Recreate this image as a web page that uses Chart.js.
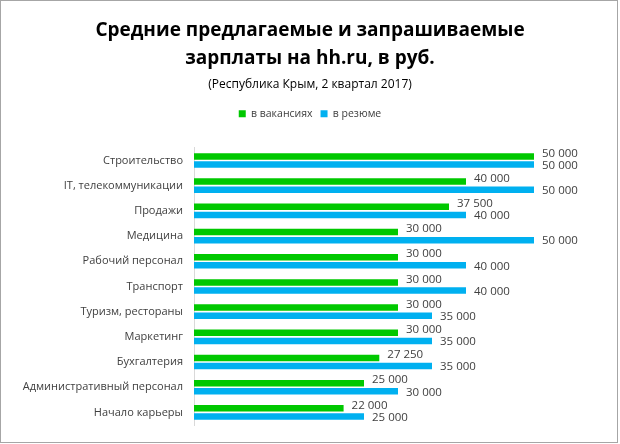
<!DOCTYPE html>
<html>
<head>
<meta charset="utf-8">
<script src="https://cdn.jsdelivr.net/npm/chart.js@4"></script>
<style>
  html, body { margin: 0; padding: 0; background: #fff; }
  #wrap { width: 620px; height: 444px; }
</style>
</head>
<body>
<div id="wrap"><canvas id="salaryChart" width="620" height="444"></canvas></div>
<script>
// -------------------------
// Data
// -------------------------
const categories = [
    'Строительство',
    'IT, телекоммуникации',
    'Продажи',
    'Медицина',
    'Рабочий персонал',
    'Транспорт',
    'Туризм, рестораны',
    'Маркетинг',
    'Бухгалтерия',
    'Административный персонал',
    'Начало карьеры'
];
const vacancies = [50000, 40000, 37500, 30000, 30000, 30000, 30000, 30000, 27250, 25000, 22000];
const resumes = [50000, 50000, 40000, 50000, 40000, 40000, 35000, 35000, 35000, 30000, 25000];
const seriesNames = ['в вакансиях', 'в резюме'];

const GREEN = '#00c800';
const BLUE = '#00b0f0';
const FONT = '"Open Sans", sans-serif';

const fmt = v => String(v).replace(/\B(?=(\d{3})+(?!\d))/g, ' ');

// value labels to the right of each bar
const valueLabels = {
    id: 'valueLabels',
    afterDatasetsDraw(chart) {
        const ctx = chart.ctx;
        ctx.save();
        ctx.font = '11.5px ' + FONT;
        ctx.fillStyle = '#404040';
        ctx.textAlign = 'left';
        ctx.textBaseline = 'middle';
        chart.data.datasets.forEach((ds, i) => {
            const dy = i === 0 ? -3 : 1;
            chart.getDatasetMeta(i).data.forEach((bar, j) => {
                ctx.fillText(fmt(ds.data[j]), bar.x + 8, bar.y + dy);
            });
        });
        ctx.restore();
    }
};

// thin grey frame around the whole picture
const frame = {
    id: 'frame',
    afterDraw(chart) {
        const ctx = chart.ctx;
        ctx.save();
        ctx.strokeStyle = '#a6a6a6';
        ctx.lineWidth = 1;
        ctx.strokeRect(0.5, 0.5, 617, 442);
        ctx.restore();
    }
};

new Chart(document.getElementById('salaryChart'), {
    type: 'bar',
    data: {
        labels: categories,
        datasets: [
            { label: seriesNames[0], data: vacancies, backgroundColor: GREEN },
            { label: seriesNames[1], data: resumes, backgroundColor: BLUE }
        ]
    },
    options: {
        indexAxis: 'y',
        responsive: false,
        animation: false,
        categoryPercentage: 0.645,
        barPercentage: 0.8,
        layout: { padding: { top: 16, left: 0, right: 0, bottom: 19 } },
        plugins: {
            title: {
                display: true,
                text: ['Средние предлагаемые и запрашиваемые', 'зарплаты на hh.ru, в руб.'],
                color: '#000',
                font: { family: FONT, size: 19, weight: 'bold', lineHeight: 1.5 },
                padding: { top: 0, bottom: 4 }
            },
            subtitle: {
                display: true,
                text: '(Республика Крым, 2 квартал 2017)',
                color: '#000',
                font: { family: FONT, size: 12 },
                padding: { top: 0, bottom: 9 }
            },
            legend: {
                position: 'top',
                labels: {
                    boxWidth: 7,
                    boxHeight: 7,
                    padding: 8,
                    color: '#404040',
                    font: { family: FONT, size: 10.5 }
                }
            },
            tooltip: { enabled: false }
        },
        scales: {
            x: {
                position: 'top',
                min: 0,
                max: 50000,
                ticks: { display: false },
                grid: { display: false },
                border: { display: false },
                afterFit: s => { s.height = 19; }
            },
            y: {
                grid: { display: false, drawTicks: false },
                border: { display: true, color: '#d9d9d9' },
                ticks: {
                    padding: 11,
                    color: '#404040',
                    font: { family: FONT, size: 11 }
                },
                afterFit: s => { s.width = 194; }
            },
            // empty right-hand axis: keeps room for the value labels
            yRight: {
                type: 'category',
                position: 'right',
                labels: [],
                ticks: { display: false },
                grid: { display: false, drawTicks: false },
                border: { display: false },
                afterFit: s => { s.width = 86; }
            }
        }
    },
    plugins: [valueLabels, frame]
});
</script>
</body>
</html>
